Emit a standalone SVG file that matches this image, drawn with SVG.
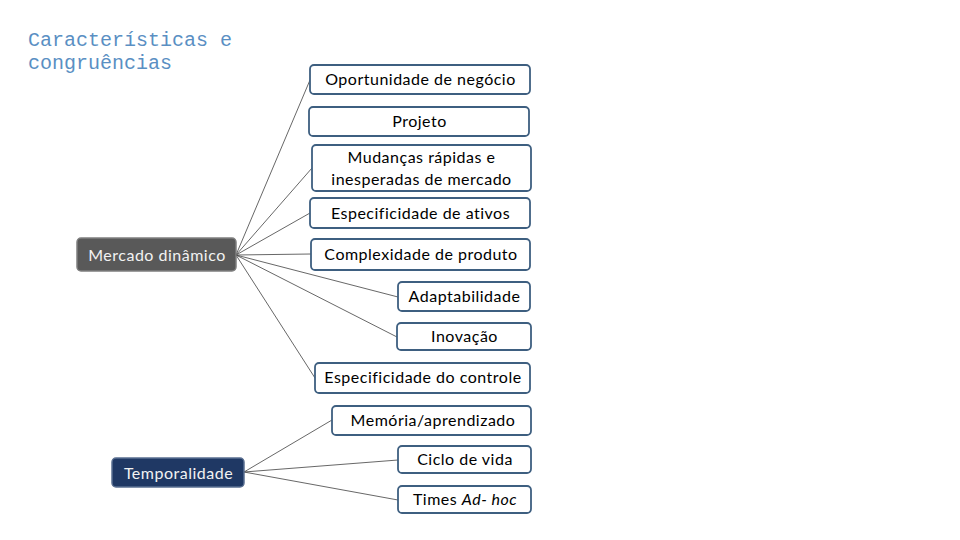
<svg xmlns="http://www.w3.org/2000/svg" width="960" height="540" viewBox="0 0 960 540">
<style>
.title{font-family:"Liberation Mono","Courier New",monospace;font-size:20px;fill:#5a8fc3}
.box rect{fill:#ffffff;stroke:#3e5f80;stroke-width:1.8}
.box text{font-family:Lato,"Noto Sans",sans-serif;font-size:16px;letter-spacing:0.5px;fill:#000;text-anchor:middle}
.root text{font-family:Lato,"Noto Sans",sans-serif;font-size:16px;letter-spacing:0.5px;fill:#f2f2f2;text-anchor:middle}
.conn line{stroke:#404040;stroke-width:0.8}
</style>
<rect width="960" height="540" fill="#ffffff"/>
<text class="title" x="28" y="46">Características e</text>
<text class="title" x="28" y="69">congruências</text>
<g class="conn">
<line x1="236" y1="255" x2="310" y2="80"/>
<line x1="236" y1="255" x2="312" y2="168"/>
<line x1="236" y1="255" x2="310" y2="213"/>
<line x1="236" y1="255" x2="311" y2="254"/>
<line x1="236" y1="255" x2="398" y2="297"/>
<line x1="236" y1="255" x2="397" y2="337"/>
<line x1="236" y1="255" x2="315" y2="378"/>
<line x1="244" y1="472" x2="332" y2="420"/>
<line x1="244" y1="472" x2="398" y2="460"/>
<line x1="244" y1="472" x2="398" y2="500"/>
</g>
<g id="mercado" class="root"><rect x="77" y="238" width="159" height="33" rx="4" fill="#595959" stroke="#7f7f7f" stroke-width="1.5"/><text x="157" y="261">Mercado dinâmico</text></g>
<g id="temporalidade" class="root"><rect x="112" y="458" width="132" height="29" rx="4" fill="#1f3864" stroke="#5a6f91" stroke-width="1.5"/><text x="178.5" y="479">Temporalidade</text></g>
<g id="n1" class="box"><rect x="310" y="65" width="220" height="29" rx="4"/><text x="420.5" y="85">Oportunidade de negócio</text></g>
<g id="n2" class="box"><rect x="309" y="107" width="220" height="29" rx="4"/><text x="419.5" y="127">Projeto</text></g>
<g id="n3" class="box"><rect x="312" y="145" width="219" height="46" rx="4"/><text x="421.5" y="163">Mudanças rápidas e</text><text x="421.5" y="185">inesperadas de mercado</text></g>
<g id="n4" class="box"><rect x="310" y="198" width="220" height="30" rx="4"/><text x="420.5" y="219">Especificidade de ativos</text></g>
<g id="n5" class="box"><rect x="311" y="239" width="219" height="31" rx="4"/><text x="421" y="260">Complexidade de produto</text></g>
<g id="n6" class="box"><rect x="398" y="282" width="132" height="29" rx="4"/><text x="464.5" y="302">Adaptabilidade</text></g>
<g id="n7" class="box"><rect x="397" y="323" width="134" height="27" rx="4"/><text x="464.5" y="342">Inovação</text></g>
<g id="n8" class="box"><rect x="315" y="363" width="215" height="30" rx="4"/><text x="423" y="383">Especificidade do controle</text></g>
<g id="n9" class="box"><rect x="332" y="406" width="199" height="29" rx="4"/><text x="433" y="426">Memória/aprendizado</text></g>
<g id="n10" class="box"><rect x="398" y="446" width="133" height="27" rx="4"/><text x="465" y="465">Ciclo de vida</text></g>
<g id="n11" class="box"><rect x="398" y="486" width="133" height="27" rx="4"/><text x="465" y="505">Times <tspan font-style="italic">Ad- hoc</tspan></text></g>
</svg>
